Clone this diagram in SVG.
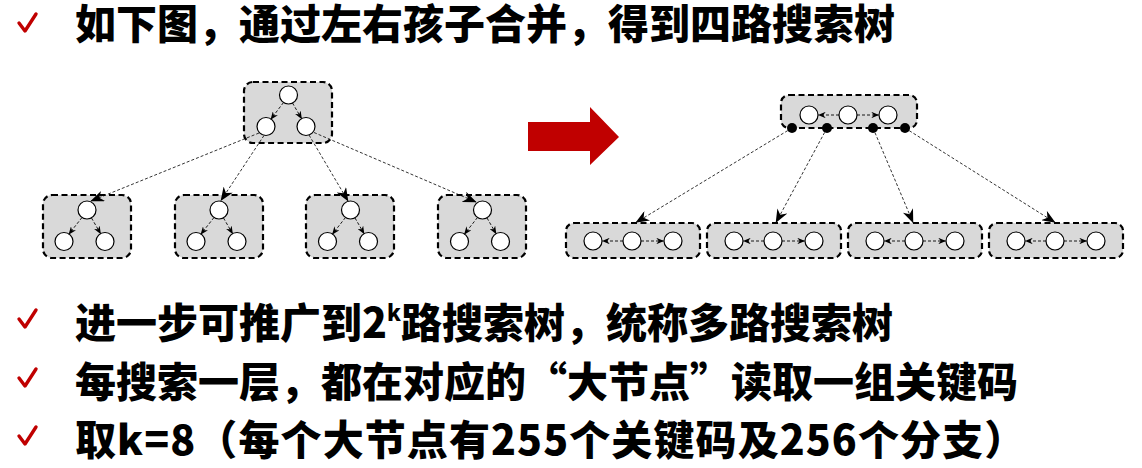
<svg xmlns="http://www.w3.org/2000/svg" width="1142" height="468" viewBox="0 0 1142 468">
<defs>
<style>
.box{fill:#d9d9d9;stroke:#000;stroke-width:2.2;stroke-dasharray:6 3.5}
.c{fill:#fff;stroke:#000;stroke-width:1.2}
.dot{fill:#000}
.in{fill:none;stroke:#000;stroke-width:0.9;stroke-dasharray:3 2;marker-end:url(#ah)}
.con{fill:none;stroke:#000;stroke-width:0.8;stroke-dasharray:3 2;marker-end:url(#ahb)}
.t{font-family:"Noto Sans CJK SC","Microsoft YaHei",sans-serif;font-weight:900;font-size:41px;fill:#000}
.chk{fill:none;stroke:#c00000;stroke-width:3.4;stroke-linecap:round;stroke-linejoin:round}
</style>
<marker id="ah" viewBox="0 0 10 8" refX="9" refY="4" markerWidth="8" markerHeight="6.4" markerUnits="userSpaceOnUse" orient="auto">
<path d="M0,0 L10,4 L0,8 L3,4 z" fill="#000"/>
</marker>
<marker id="ahb" viewBox="0 0 10 8" refX="9.5" refY="4" markerWidth="14" markerHeight="11" markerUnits="userSpaceOnUse" orient="auto">
<path d="M0,0 L10,4 L0,8 L3,4 z" fill="#000"/>
</marker>
</defs>
<rect width="1142" height="468" fill="#fff"/>

<g id="line1">
<path class="chk" d="M19,23 L25,31 L36,14"/>
<text class="t" x="75" y="39">如下图，通过左右孩子合并，得到四路搜索树</text>
</g>
<g id="line2">
<path class="chk" d="M19,319 L25,327 L36,310"/>
<text class="t" x="75" y="338">进一步可推广到2<tspan font-size="22" dy="-17">k</tspan><tspan dy="17">路搜索树，统称多路搜索树</tspan></text>
</g>
<g id="line3">
<path class="chk" d="M19,378 L25,386 L36,369"/>
<text class="t" x="75" y="397">每搜索一层，都在对应的“大节点”读取一组关键码</text>
</g>
<g id="line4">
<path class="chk" d="M19,436 L25,444 L36,427"/>
<text class="t" x="75" y="455" letter-spacing="1.1">取k=8（每个大节点有255个关键码及256个分支）</text>
</g>

<g id="bigArrow">
<polygon points="528,122 590,122 590,107 619,137 590,165 590,151 528,151" fill="#c00000"/>
</g>

<g id="L-root">
<rect class="box" x="244" y="82" width="88" height="61" rx="9"/>
<circle class="c" cx="288.5" cy="95" r="9"/>
<circle class="c" cx="266" cy="126.5" r="9"/>
<circle class="c" cx="306" cy="126.5" r="9"/>
<line class="in" x1="283.5" y1="102.5" x2="271" y2="119"/>
<line class="in" x1="292.5" y1="103" x2="301.5" y2="118.5"/>
</g>
<g id="L-c1">
<rect class="box" x="43" y="195" width="88" height="63" rx="9"/>
<circle class="c" cx="87" cy="210" r="9"/>
<circle class="c" cx="64" cy="241.5" r="9"/>
<circle class="c" cx="105" cy="241.5" r="9"/>
<line class="in" x1="82" y1="217.5" x2="69" y2="234"/>
<line class="in" x1="91.5" y1="218" x2="100.5" y2="233.5"/>
</g>
<g id="L-c2">
<rect class="box" x="175" y="195" width="88" height="63" rx="9"/>
<circle class="c" cx="219" cy="210" r="9"/>
<circle class="c" cx="196" cy="241.5" r="9"/>
<circle class="c" cx="237" cy="241.5" r="9"/>
<line class="in" x1="214" y1="217.5" x2="201" y2="234"/>
<line class="in" x1="223.5" y1="218" x2="232.5" y2="233.5"/>
</g>
<g id="L-c3">
<rect class="box" x="306" y="195" width="88" height="63" rx="9"/>
<circle class="c" cx="350.5" cy="210" r="9"/>
<circle class="c" cx="327.5" cy="241.5" r="9"/>
<circle class="c" cx="368.5" cy="241.5" r="9"/>
<line class="in" x1="345.5" y1="217.5" x2="332.5" y2="234"/>
<line class="in" x1="355" y1="218" x2="364" y2="233.5"/>
</g>
<g id="L-c4">
<rect class="box" x="438" y="195" width="88" height="63" rx="9"/>
<circle class="c" cx="482.5" cy="210" r="9"/>
<circle class="c" cx="459.5" cy="241.5" r="9"/>
<circle class="c" cx="500.5" cy="241.5" r="9"/>
<line class="in" x1="477.5" y1="217.5" x2="464.5" y2="234"/>
<line class="in" x1="487" y1="218" x2="496" y2="233.5"/>
</g>

<g id="R-root">
<rect class="box" x="781" y="95" width="136" height="33" rx="8"/>
<circle class="c" cx="809" cy="115" r="9"/>
<circle class="c" cx="848" cy="115" r="9"/>
<circle class="c" cx="888" cy="115" r="9"/>
<line class="in" x1="839" y1="115" x2="818.5" y2="115"/>
<line class="in" x1="857" y1="115" x2="878.5" y2="115"/>
</g>
<g id="R-c1">
<rect class="box" x="566" y="223" width="134" height="35" rx="8"/>
<circle class="c" cx="593" cy="241" r="9"/>
<circle class="c" cx="632" cy="241" r="9"/>
<circle class="c" cx="673" cy="241" r="9"/>
<line class="in" x1="623" y1="241" x2="602.5" y2="241"/>
<line class="in" x1="641" y1="241" x2="663.5" y2="241"/>
</g>
<g id="R-c2">
<rect class="box" x="707" y="223" width="134" height="35" rx="8"/>
<circle class="c" cx="734" cy="241" r="9"/>
<circle class="c" cx="773" cy="241" r="9"/>
<circle class="c" cx="814" cy="241" r="9"/>
<line class="in" x1="764" y1="241" x2="743.5" y2="241"/>
<line class="in" x1="782" y1="241" x2="804.5" y2="241"/>
</g>
<g id="R-c3">
<rect class="box" x="848" y="223" width="134" height="35" rx="8"/>
<circle class="c" cx="875" cy="241" r="9"/>
<circle class="c" cx="914" cy="241" r="9"/>
<circle class="c" cx="955" cy="241" r="9"/>
<line class="in" x1="905" y1="241" x2="884.5" y2="241"/>
<line class="in" x1="923" y1="241" x2="945.5" y2="241"/>
</g>
<g id="R-c4">
<rect class="box" x="989" y="223" width="134" height="35" rx="8"/>
<circle class="c" cx="1016" cy="241" r="9"/>
<circle class="c" cx="1055" cy="241" r="9"/>
<circle class="c" cx="1096" cy="241" r="9"/>
<line class="in" x1="1046" y1="241" x2="1025.5" y2="241"/>
<line class="in" x1="1064" y1="241" x2="1086.5" y2="241"/>
</g>

<g id="connectors">
<line class="con" x1="259" y1="133" x2="91" y2="201"/>
<line class="con" x1="264" y1="135.5" x2="221" y2="200.5"/>
<line class="con" x1="309" y1="135" x2="348" y2="201"/>
<line class="con" x1="314" y1="132.5" x2="476" y2="202"/>
<line class="con" x1="792" y1="128" x2="636" y2="222.5"/>
<line class="con" x1="827" y1="128" x2="776" y2="222.5"/>
<line class="con" x1="873" y1="128" x2="913" y2="222.5"/>
<line class="con" x1="905" y1="128" x2="1055" y2="222.5"/>
</g>
<g id="R-dots">
<circle class="dot" cx="792" cy="128" r="5"/>
<circle class="dot" cx="827" cy="128" r="5"/>
<circle class="dot" cx="873" cy="128" r="5"/>
<circle class="dot" cx="905" cy="128" r="5"/>
</g>
</svg>
